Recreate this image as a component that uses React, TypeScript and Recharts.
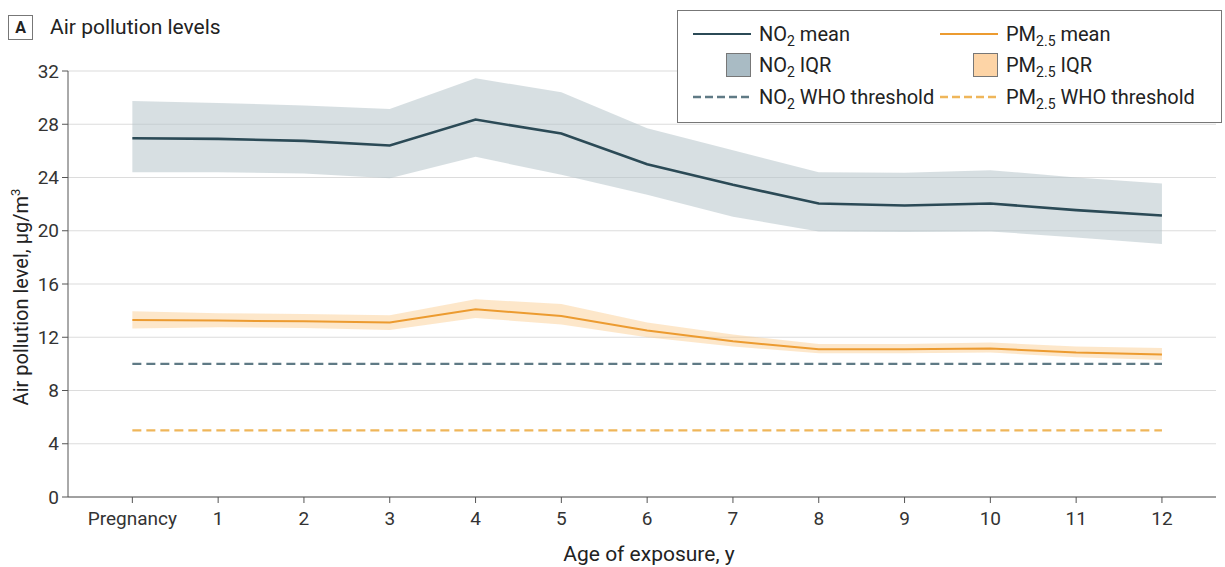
import React from "react";
import {
  ComposedChart,
  Area,
  Line,
  XAxis,
  YAxis,
  CartesianGrid,
  ReferenceLine,
} from "recharts";

// age of exposure, 0 = pregnancy
const ages = [0, 1, 2, 3, 4, 5, 6, 7, 8, 9, 10, 11, 12];
const ageLabels = ["Pregnancy", "1", "2", "3", "4", "5", "6", "7", "8", "9", "10", "11", "12"];

const no2Mean = [26.95, 26.9, 26.75, 26.4, 28.35, 27.3, 25.0, 23.45, 22.05, 21.9, 22.05, 21.55, 21.15];
const no2Low = [24.4, 24.4, 24.3, 23.95, 25.55, 24.2, 22.7, 21.05, 19.95, 19.9, 19.95, 19.5, 19.0];
const no2High = [29.75, 29.6, 29.4, 29.15, 31.45, 30.4, 27.7, 26.05, 24.4, 24.35, 24.55, 24.0, 23.55];

const pmMean = [13.3, 13.25, 13.2, 13.1, 14.1, 13.6, 12.5, 11.7, 11.1, 11.1, 11.15, 10.85, 10.7];
const pmLow = [12.65, 12.75, 12.7, 12.55, 13.45, 12.95, 12.0, 11.3, 10.8, 10.8, 10.85, 10.5, 10.3];
const pmHigh = [13.95, 13.8, 13.75, 13.65, 14.85, 14.5, 13.1, 12.2, 11.5, 11.5, 11.6, 11.3, 11.2];

const no2Threshold = 10;
const pmThreshold = 5;
const yTicks = [0, 4, 8, 12, 16, 20, 24, 28, 32];

const data = ages.map((a, i) => ({
  age: a,
  no2Mean: no2Mean[i],
  no2Iqr: [no2Low[i], no2High[i]],
  pmMean: pmMean[i],
  pmIqr: [pmLow[i], pmHigh[i]],
}));

const FONT = "Roboto, 'Noto Sans', sans-serif";
const NO2_LINE = "#2b4a56";
const PM_LINE = "#ec9b30";
const NO2_DASH = "#5f7a85";
const PM_DASH = "#efb65a";

function YLabel() {
  return (
    <text
      transform="rotate(-90)"
      x={-297}
      y={28}
      textAnchor="middle"
      fontSize={20}
      fill="#222"
      fontFamily={FONT}
    >
      Air pollution level, µg/m
      <tspan dy={-8} fontSize={13}>
        3
      </tspan>
    </text>
  );
}

function Sub({ children }: { children: React.ReactNode }) {
  return (
    <span style={{ fontSize: 14, position: "relative", top: 5 }}>{children}</span>
  );
}

function LegendRow({
  left,
  top,
  mark,
  label,
}: {
  left: number;
  top: number;
  mark: React.ReactNode;
  label: React.ReactNode;
}) {
  return (
    <div style={{ position: "absolute", left, top, display: "flex", alignItems: "center", height: 24 }}>
      <div style={{ width: 58, display: "flex", justifyContent: "flex-end", marginRight: 8 }}>{mark}</div>
      <div style={{ fontSize: 20, color: "#222", whiteSpace: "nowrap" }}>{label}</div>
    </div>
  );
}

const solid = (c: string) => <div style={{ width: 58, height: 0, borderTop: `2.5px solid ${c}` }} />;
const dashed = (c: string) => (
  <svg width={58} height={4}>
    <line x1={0} y1={2} x2={58} y2={2} stroke={c} strokeWidth={2.5} strokeDasharray="8 4" />
  </svg>
);
const swatch = (c: string) => (
  <div style={{ width: 25, height: 24, background: c, border: "1px solid #777", boxSizing: "border-box" }} />
);

export default function App() {
  return (
    <div style={{ position: "absolute", left: 0, top: 0, width: 1225, height: 567, background: "#fff", fontFamily: FONT }}>
      <div
        style={{
          position: "absolute",
          left: 8,
          top: 15,
          width: 25,
          height: 25,
          border: "1px solid #777",
          boxSizing: "border-box",
          fontWeight: 700,
          fontSize: 16,
          display: "flex",
          alignItems: "center",
          justifyContent: "center",
          color: "#222",
        }}
      >
        A
      </div>
      <div style={{ position: "absolute", left: 50, top: 15, fontSize: 21, color: "#222", lineHeight: "25px" }}>
        Air pollution levels
      </div>

      <ComposedChart width={1225} height={567} data={data} margin={{ top: 71, right: 9, left: 0, bottom: 0 }}>
        <CartesianGrid vertical={false} stroke="#dcdcdc" strokeWidth={1.2} />
        <XAxis
          dataKey="age"
          type="number"
          domain={[-0.75, 12.63]}
          ticks={ages}
          tickFormatter={(v: number) => ageLabels[v]}
          allowDataOverflow
          height={70}
          interval={0}
          tickSize={6}
          tickMargin={9}
          stroke="#555"
          tick={{ fontSize: 19, fill: "#333", fontFamily: FONT }}
          label={{
            value: "Age of exposure, y",
            position: "insideBottom",
            offset: 6,
            fontSize: 21,
            fill: "#222",
            fontFamily: FONT,
            dx: 7,
          }}
        />
        <YAxis
          type="number"
          domain={[0, 32]}
          ticks={yTicks}
          width={68}
          tickSize={6}
          tickMargin={3}
          stroke="#555"
          tick={{ fontSize: 19, fill: "#333", fontFamily: FONT }}
          label={<YLabel />}
        />
        <Area
          type="linear"
          dataKey="no2Iqr"
          stroke="none"
          fill="#b6c4cb"
          fillOpacity={0.55}
          isAnimationActive={false}
        />
        <Area
          type="linear"
          dataKey="pmIqr"
          stroke="none"
          fill="#fbc98a"
          fillOpacity={0.45}
          isAnimationActive={false}
        />
        <ReferenceLine
          segment={[
            { x: 0, y: no2Threshold },
            { x: 12, y: no2Threshold },
          ]}
          stroke={NO2_DASH}
          strokeWidth={2.2}
          strokeDasharray="9 5"
        />
        <ReferenceLine
          segment={[
            { x: 0, y: pmThreshold },
            { x: 12, y: pmThreshold },
          ]}
          stroke={PM_DASH}
          strokeWidth={2.2}
          strokeDasharray="9 5"
        />
        <Line
          type="linear"
          dataKey="no2Mean"
          stroke={NO2_LINE}
          strokeWidth={2.6}
          dot={false}
          isAnimationActive={false}
        />
        <Line
          type="linear"
          dataKey="pmMean"
          stroke={PM_LINE}
          strokeWidth={2}
          dot={false}
          isAnimationActive={false}
        />
      </ComposedChart>

      <div
        style={{
          position: "absolute",
          left: 677,
          top: 10,
          width: 545,
          height: 113,
          border: "1.5px solid #777",
          boxSizing: "border-box",
          background: "#fff",
        }}
      >
        <LegendRow left={15} top={11} mark={solid(NO2_LINE)} label={<>NO<Sub>2</Sub> mean</>} />
        <LegendRow left={15} top={42} mark={swatch("#a9bbc4")} label={<>NO<Sub>2</Sub> IQR</>} />
        <LegendRow left={15} top={74} mark={dashed(NO2_DASH)} label={<>NO<Sub>2</Sub> WHO threshold</>} />
        <LegendRow left={262} top={11} mark={solid(PM_LINE)} label={<>PM<Sub>2.5</Sub> mean</>} />
        <LegendRow left={262} top={42} mark={swatch("#fdd4a6")} label={<>PM<Sub>2.5</Sub> IQR</>} />
        <LegendRow left={262} top={74} mark={dashed(PM_DASH)} label={<>PM<Sub>2.5</Sub> WHO threshold</>} />
      </div>
    </div>
  );
}
